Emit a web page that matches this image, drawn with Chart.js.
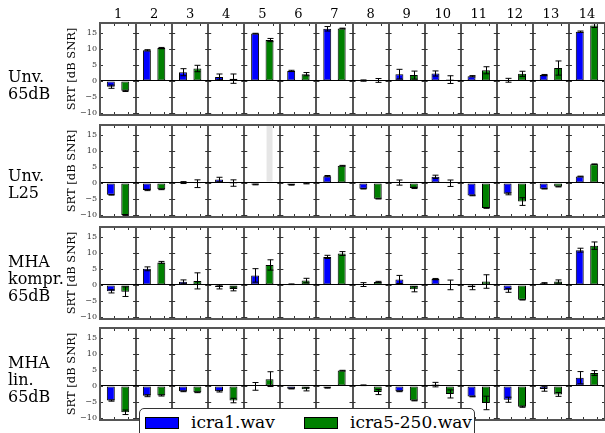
<!DOCTYPE html>
<html>
<head>
<meta charset="utf-8">
<script src="https://cdn.jsdelivr.net/npm/chart.js@4.4.1/dist/chart.umd.min.js"></script>
<style>
  body { margin: 0; width: 605px; height: 433px; overflow: hidden; background: #fff; position: relative; font-family: 'DejaVu Serif', serif; }
  canvas.row { position: absolute; left: 0; }
  .rowlabel { position: absolute; left: 8px; font-size: 16px; line-height: 17px; white-space: pre; color: #000; }
  #legend { position: absolute; left: 139px; top: 408px; width: 334px; height: 40px; border: 1px solid #333; border-radius: 5px; background: #fff; }
  #legend .sw { position: absolute; top: 8px; width: 34px; height: 12px; box-sizing: border-box; border: 1px solid #000; }
  #legend .txt { position: absolute; top: 3px; font-size: 17px; line-height: 20px; white-space: nowrap; color: #000; }
</style>
</head>
<body>
<script>
const categories = ['1', '2', '3', '4', '5', '6', '7', '8', '9', '10', '11', '12', '13', '14'];
const yTicks = [-10, -5, 0, 5, 10, 15];
const Y_MIN = -10.6, Y_MAX = 18;
const seriesNames = ['icra1.wav', 'icra5-250.wav'];
const seriesColors = ['#0000ff', '#008000'];
const rowLabels = ['Unv.\n65dB', 'Unv.\nL25', 'MHA\nkompr.\n65dB', 'MHA\nlin.\n65dB'];

// Unv. 65dB
const unv65Icra1    = [-1.8, 9.5, 2.7, 1.25, 14.7, 3.1, 16.2, 0.1, 2.1, 2.3, 1.45, 0.2, 1.8, 15.3];
const unv65Icra1Err = [0.5, 0.2, 1.1, 0.9, 0.1, 0.2, 0.7, 0.2, 1.5, 0.8, 0.2, 0.6, 0.2, 0.2];
const unv65Icra5    = [-3.1, 10.2, 3.85, 0.7, 12.7, 2.1, 16.3, 0.15, 1.8, 0.4, 3.3, 2.2, 4.0, 17.2];
const unv65Icra5Err = [0.2, 0.2, 1.0, 1.45, 0.5, 0.5, 0.1, 0.6, 1.25, 1.2, 1.1, 0.8, 2.2, 0.6];

// Unv. L25 (null = no measurement)
const unvL25Icra1    = [-3.7, -2.2, 0.1, 1.05, -0.5, -0.6, 2.1, -1.8, 0.1, 1.9, -3.9, -3.4, -1.8, 2.0];
const unvL25Icra1Err = [0.1, 0.2, 0.3, 0.7, 0.1, 0.1, 0.2, 0.1, 0.8, 0.5, 0.1, 0.3, 0.1, 0.1];
const unvL25Icra5    = [-10.0, -2.0, -0.25, -0.05, null, -0.2, 5.35, -4.9, -1.55, -0.1, -7.8, -5.8, -1.15, 5.8];
const unvL25Icra5Err = [0.1, 0.1, 1.2, 1.0, 0, 0.1, 0.1, 0.1, 0.2, 1.0, 0.1, 1.2, 0.1, 0.1];

// MHA kompr. 65dB
const mhaKomprIcra1    = [-2.0, 5.0, 0.95, -0.65, 2.95, 0.2, 8.7, 0.1, 1.7, 1.8, -0.7, -1.7, 0.5, 10.8];
const mhaKomprIcra1Err = [0.5, 0.6, 0.6, 0.6, 2.1, 0.1, 0.5, 0.6, 1.25, 0.2, 0.8, 0.6, 0.2, 0.6];
const mhaKomprIcra5    = [-2.1, 7.0, 1.25, -1.25, 6.2, 1.35, 9.75, 0.9, -1.35, 0.0, 1.05, -4.6, 1.05, 12.2];
const mhaKomprIcra5Err = [1.5, 0.3, 2.5, 0.6, 1.6, 0.7, 0.6, 0.2, 0.8, 1.5, 2.1, 0.1, 0.5, 1.15];

// MHA lin. 65dB
const mhaLinIcra1    = [-4.55, -3.05, -1.7, -1.7, -0.15, -0.85, -0.6, 0.2, -1.7, 0.4, -3.3, -4.3, -0.95, 2.55];
const mhaLinIcra1Err = [0.2, 0.3, 0.1, 0.2, 1.2, 0.1, 0.1, 0.1, 0.1, 0.7, 0.1, 0.8, 0.7, 1.9];
const mhaLinIcra5    = [-8.2, -2.95, -2.0, -4.55, 2.1, -1.05, 4.75, -1.9, -4.55, -2.5, -5.3, -6.45, -2.65, 4.0];
const mhaLinIcra5Err = [0.7, 0.2, 0.1, 0.7, 2.3, 0.5, 0.1, 0.8, 0.1, 1.25, 2.1, 0.2, 0.6, 0.75];

const rowSeries = [
  [unv65Icra1, unv65Icra1Err, unv65Icra5, unv65Icra5Err],
  [unvL25Icra1, unvL25Icra1Err, unvL25Icra5, unvL25Icra5Err],
  [mhaKomprIcra1, mhaKomprIcra1Err, mhaKomprIcra5, mhaKomprIcra5Err],
  [mhaLinIcra1, mhaLinIcra1Err, mhaLinIcra5, mhaLinIcra5Err],
];

const FONT = 'DejaVu Serif';
const ROW_TOPS = [23, 125, 227, 328];
const ROW_H = 92;
const PAD = 8;
const LABEL_TOPS = [68, 167, 253, 354];

// frame of every small panel, with the matplotlib-style inward tick marks
const framePlugin = {
  id: 'frame',
  afterDraw(chart) {
    const { ctx, chartArea: a, scales: { y } } = chart;
    const n = categories.length;
    const step = a.width / n;
    ctx.save();
    ctx.strokeStyle = '#333';
    ctx.lineWidth = 1;
    ctx.beginPath();
    for (let i = 0; i <= n; i++) {
      const bx = a.left + i * step;
      yTicks.forEach(t => {
        const py = Math.round(y.getPixelForValue(t)) + 0.5;
        ctx.moveTo(i === 0 ? bx : bx - 3, py);
        ctx.lineTo(i === n ? bx : bx + 3, py);
      });
    }
    chart.data.datasets.forEach((ds, di) => {
      chart.getDatasetMeta(di).data.forEach(el => {
        const tx = Math.round(el.x + el.width / 2) - 0.5;
        ctx.moveTo(tx, a.top); ctx.lineTo(tx, a.top + 3);
        ctx.moveTo(tx, a.bottom); ctx.lineTo(tx, a.bottom - 3);
      });
    });
    ctx.stroke();
    ctx.strokeStyle = '#555';
    ctx.lineWidth = 2;
    ctx.strokeRect(a.left, a.top, a.width, a.height);
    ctx.restore();
  }
};

const errorBarPlugin = {
  id: 'errorBars',
  afterDatasetsDraw(chart) {
    const { ctx, scales: { y } } = chart;
    ctx.save();
    ctx.strokeStyle = '#000';
    ctx.lineWidth = 1;
    chart.data.datasets.forEach((ds, di) => {
      chart.getDatasetMeta(di).data.forEach((el, i) => {
        const v = ds.values[i], e = ds.errors[i];
        if (v === null || !e) return;
        const y1 = y.getPixelForValue(v + e), y2 = y.getPixelForValue(v - e);
        const x = Math.round(el.x) + 0.5;
        ctx.beginPath();
        ctx.moveTo(x, y1); ctx.lineTo(x, y2);
        ctx.moveTo(x - 3, y1); ctx.lineTo(x + 3, y1);
        ctx.moveTo(x - 3, y2); ctx.lineTo(x + 3, y2);
        ctx.stroke();
      });
    });
    ctx.restore();
  }
};

function makeDataset(idx, values, errors) {
  return {
    label: seriesNames[idx],
    values: values,
    errors: errors,
    // missing measurements are shown as a light grey band over the whole positive range
    data: values.map(v => v === null ? Y_MAX : v),
    backgroundColor: values.map(v => v === null ? '#e6e6e6' : seriesColors[idx]),
    borderColor: values.map(v => v === null ? 'rgba(0,0,0,0)' : '#000'),
    borderWidth: 1,
    borderSkipped: false,
  };
}

function makeRow(r) {
  const first = r === 0;
  const canvas = document.createElement('canvas');
  canvas.className = 'row';
  const top = first ? 0 : ROW_TOPS[r] - PAD;
  const height = first ? ROW_TOPS[0] + ROW_H + PAD : ROW_H + 2 * PAD;
  canvas.style.top = top + 'px';
  canvas.width = 605;
  canvas.height = height;
  canvas.style.width = '605px';
  canvas.style.height = height + 'px';
  document.body.appendChild(canvas);

  const [b, be, g, ge] = rowSeries[r];
  new Chart(canvas, {
    type: 'bar',
    data: {
      labels: categories,
      datasets: [makeDataset(0, b, be), makeDataset(1, g, ge)],
    },
    options: {
      responsive: false,
      animation: false,
      devicePixelRatio: 1,
      categoryPercentage: 0.8,
      barPercentage: 0.55,
      layout: { padding: { left: 60, right: 0, top: first ? 0 : PAD, bottom: PAD } },
      plugins: { legend: { display: false }, tooltip: { enabled: false } },
      scales: {
        x: {
          position: 'top',
          grid: { offset: true, color: '#555', lineWidth: 2, drawTicks: false },
          border: { display: false },
          ticks: { display: first, font: { family: FONT, size: 13 }, color: '#000', padding: 1, maxRotation: 0 },
          afterFit: s => { s.height = first ? ROW_TOPS[0] : 0; },
        },
        y: {
          min: Y_MIN,
          max: Y_MAX,
          afterBuildTicks: s => { s.ticks = yTicks.map(v => ({ value: v })); },
          ticks: {
            font: { family: FONT, size: 8 },
            color: '#333',
            padding: 3,
            callback: v => String(v).replace('-', '\u2212'),
          },
          grid: {
            color: c => (c.tick && c.tick.value === 0) ? '#000' : 'rgba(0,0,0,0)',
            lineWidth: 1,
            drawTicks: false,
          },
          border: { display: false },
          title: {
            display: true,
            text: 'SRT [dB SNR]',
            font: { family: FONT, size: 11.5 },
            color: '#000',
            padding: { top: 4.8, bottom: 0 },
          },
          afterFit: s => { s.width = 40; },
        },
      },
    },
    plugins: [framePlugin, errorBarPlugin],
  });

  const lab = document.createElement('div');
  lab.className = 'rowlabel';
  lab.style.top = LABEL_TOPS[r] + 'px';
  lab.textContent = rowLabels[r];
  document.body.appendChild(lab);
}

rowSeries.forEach((_, r) => makeRow(r));

// legend
const legend = document.createElement('div');
legend.id = 'legend';
const swLeft = [5, 164], txtLeft = [51, 210];
seriesNames.forEach((name, i) => {
  const sw = document.createElement('div');
  sw.className = 'sw';
  sw.style.left = swLeft[i] + 'px';
  sw.style.background = seriesColors[i];
  const t = document.createElement('div');
  t.className = 'txt';
  t.style.left = txtLeft[i] + 'px';
  t.textContent = name;
  legend.appendChild(sw);
  legend.appendChild(t);
});
document.body.appendChild(legend);
</script>
</body>
</html>
